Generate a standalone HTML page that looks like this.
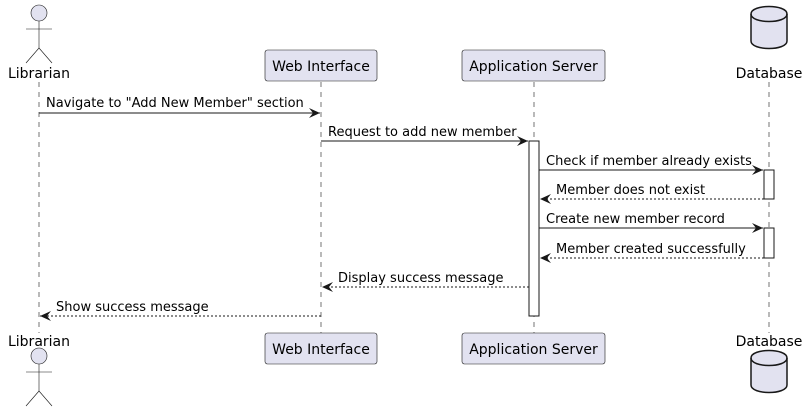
<!DOCTYPE html>
<html><head><meta charset="utf-8"><style>
html,body{margin:0;padding:0;background:#fff;}
svg{display:block;font-family:"DejaVu Sans","Liberation Sans",sans-serif;}
</style></head><body>
<svg width="806" height="414" viewBox="0 0 806 414" xmlns="http://www.w3.org/2000/svg">
<defs>
<marker id="a" markerWidth="12" markerHeight="10" refX="11" refY="5" orient="auto" markerUnits="userSpaceOnUse">
<path d="M0,0 L11,5 L0,10 L4,5 Z" fill="#181818"/></marker>
</defs>
<g stroke="#181818" stroke-width="0.6" stroke-dasharray="5,5">
<line x1="39" y1="82" x2="39" y2="333"/>
<line x1="321" y1="82" x2="321" y2="333"/>
<line x1="534" y1="82" x2="534" y2="333"/>
<line x1="769" y1="82" x2="769" y2="333"/>
</g>
<!-- activations -->
<rect x="529" y="141" width="10" height="175" fill="#fff" stroke="#181818"/>
<rect x="764" y="170" width="10" height="29" fill="#fff" stroke="#181818"/>
<rect x="764" y="228" width="10" height="30" fill="#fff" stroke="#181818"/>
<!-- top participants -->
<g fill="#E2E2F0" stroke="#181818" stroke-width="0.6">
<circle cx="39" cy="13" r="8"/>
<line x1="39" y1="21" x2="39" y2="48"/><line x1="26" y1="29" x2="52" y2="29"/>
<line x1="39" y1="48" x2="26" y2="63"/><line x1="39" y1="48" x2="52" y2="63"/>
<rect x="265" y="50" width="112" height="31" rx="2.5"/>
<rect x="462" y="50" width="143" height="31" rx="2.5"/>
<circle cx="39" cy="356" r="8"/>
<line x1="39" y1="364" x2="39" y2="391"/><line x1="26" y1="372" x2="52" y2="372"/>
<line x1="39" y1="391" x2="26" y2="406"/><line x1="39" y1="391" x2="52" y2="406"/>
<rect x="265" y="333" width="112" height="31" rx="2.5"/>
<rect x="462" y="333" width="143" height="31" rx="2.5"/>
</g>
<g fill="#E2E2F0" stroke="#181818" stroke-width="1.5">
<path d="M751,14 C751,4 787,4 787,14 L787,41 C787,51 751,51 751,41 Z"/>
<path d="M751,14 C751,24 787,24 787,14" fill="none"/>
<path d="M751,358 C751,348 787,348 787,358 L787,385 C787,395 751,395 751,385 Z"/>
<path d="M751,358 C751,368 787,368 787,358" fill="none"/>
</g>
<g font-size="14" fill="#000">
<text x="39" y="78" text-anchor="middle">Librarian</text>
<text x="321" y="71" text-anchor="middle">Web Interface</text>
<text x="533.5" y="71" text-anchor="middle">Application Server</text>
<text x="769" y="78" text-anchor="middle">Database</text>
<text x="39" y="346" text-anchor="middle">Librarian</text>
<text x="321" y="354" text-anchor="middle">Web Interface</text>
<text x="533.5" y="354" text-anchor="middle">Application Server</text>
<text x="769" y="346" text-anchor="middle">Database</text>
</g>
<!-- messages -->
<g stroke="#181818" stroke-width="1" fill="none">
<line x1="39" y1="113" x2="320" y2="113" marker-end="url(#a)"/>
<line x1="321" y1="141" x2="528" y2="141" marker-end="url(#a)"/>
<line x1="539" y1="170" x2="763" y2="170" marker-end="url(#a)"/>
<line x1="764" y1="199" x2="540" y2="199" stroke-dasharray="2,2" marker-end="url(#a)"/>
<line x1="539" y1="228" x2="763" y2="228" marker-end="url(#a)"/>
<line x1="764" y1="258" x2="540" y2="258" stroke-dasharray="2,2" marker-end="url(#a)"/>
<line x1="529" y1="287" x2="322" y2="287" stroke-dasharray="2,2" marker-end="url(#a)"/>
<line x1="321" y1="316" x2="40" y2="316" stroke-dasharray="2,2" marker-end="url(#a)"/>
</g>
<g font-size="13" fill="#000">
<text x="46" y="107">Navigate to "Add New Member" section</text>
<text x="328" y="136">Request to add new member</text>
<text x="546" y="165">Check if member already exists</text>
<text x="556" y="194">Member does not exist</text>
<text x="546" y="223">Create new member record</text>
<text x="556" y="253">Member created successfully</text>
<text x="338" y="282">Display success message</text>
<text x="56" y="311">Show success message</text>
</g>
</svg>
</body></html>
